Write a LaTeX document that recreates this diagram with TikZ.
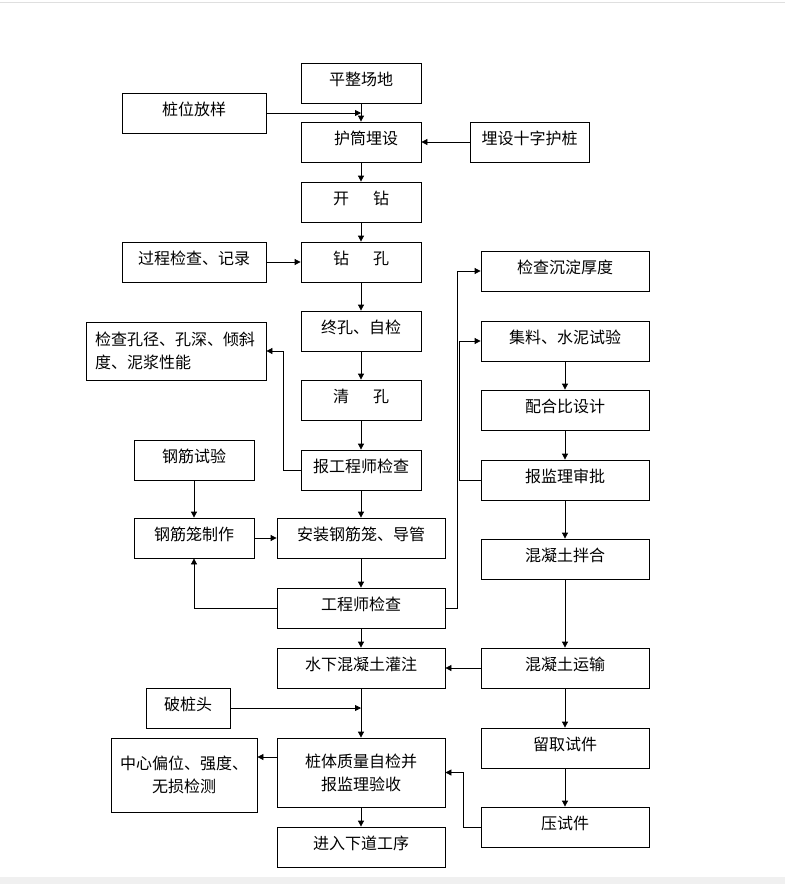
\documentclass[tikz,border=0pt]{standalone}
\usepackage{fontspec}
\setmainfont{Noto Sans CJK SC}
\usetikzlibrary{arrows.meta}

\begin{document}
\begin{tikzpicture}[x=1pt,y=-1pt,
	box/.style={draw,line width=0.8pt,inner sep=0pt,minimum height=40pt,text height=14pt,text depth=10pt,font=\fontsize{16pt}{23pt}\selectfont},
	twobox/.style={draw,line width=0.8pt,inner sep=0pt,align=center,font=\fontsize{16pt}{23pt}\selectfont},
	link/.style={line width=0.8pt},
	arr/.style={line width=0.8pt,-{Triangle[length=6pt,width=6pt]}}]
	\useasboundingbox (0,0) rectangle (785,884);
	\draw [gray!25] (0,2) -- (785,2);
	\fill [gray!12] (0,877) rectangle (785,884);

	% middle column
	\node [box,minimum width=120pt] (pingzheng) at (361,83) {平整场地\hspace{20pt}};
	\node [box,minimum width=120pt] (hutong) at (361,142) {\hspace{10pt}护筒埋设};
	\node [box,minimum width=120pt] (kaizuan) at (361,202) {开\hspace{24pt}钻\hspace{8pt}};
	\node [box,minimum width=120pt] (zuankong) at (361,262) {钻\hspace{24pt}孔\hspace{10pt}};
	\node [box,minimum width=120pt] (zhongkong) at (361,331) {终孔、自检\hspace{16pt}};
	\node [box,minimum width=120pt] (qingkong) at (361,400) {清\hspace{24pt}孔\hspace{8pt}};
	\node [box,minimum width=120pt] (baogcs) at (361,470) {报工程师检查};
	\node [box,minimum width=168pt] (anzhuang) at (361,538) {安装钢筋笼、导管\hspace{16pt}};
	\node [box,minimum width=168pt] (gcsjc) at (361,608) {工程师检查};
	\node [box,minimum width=168pt] (guanzhu) at (361,668) {水下混凝土灌注};
	\node [twobox,minimum width=168pt,minimum height=69pt] (zijian) at (361,772.5) {桩体质量自检并\\报监理验收};
	\node [box,minimum width=168pt] (xiadao) at (361,847) {进入下道工序};

	% left column
	\node [box,minimum width=144pt] (zhuangwei) at (194,113) {桩位放样\hspace{28pt}};
	\node [box,minimum width=144pt] (guocheng) at (194,262) {过程检查、记录\hspace{12pt}};
	\node [twobox,minimum width=180pt,minimum height=58pt,text width=162pt,align=left] (kongjing) at (176,351) {检查孔径、孔深、倾斜\\度、泥浆性能};
	\node [box,minimum width=120pt] (gangjin) at (194,460) {钢筋试验};
	\node [box,minimum width=120pt] (zhizuo) at (194,538) {钢筋笼制作\hspace{19pt}};
	\node [box,minimum width=84pt] (pozhuang) at (188,708) {破桩头};
	\node [twobox,minimum width=146pt,minimum height=74pt] (jiance) at (184,775) {中心偏位、强度、\\无损检测};

	% right column
	\node [box,minimum width=119pt] (shizi) at (529.5,142) {埋设十字护桩};
	\node [box,minimum width=168pt] (chendian) at (565,271) {检查沉淀厚度};
	\node [box,minimum width=168pt] (jiliao) at (565,341) {集料、水泥试验};
	\node [box,minimum width=168pt] (peihe) at (565,410) {配合比设计};
	\node [box,minimum width=168pt] (shenpi) at (565,480) {报监理审批};
	\node [box,minimum width=168pt] (banhe) at (565,559) {混凝土拌合};
	\node [box,minimum width=168pt] (yunshu) at (565,668) {混凝土运输};
	\node [box,minimum width=168pt] (liuqu) at (565,748) {留取试件};
	\node [box,minimum width=168pt] (yashi) at (565,827) {压试件};

	% main line
	\draw [arr] (pingzheng) -- (hutong);
	\draw [arr] (hutong) -- (kaizuan);
	\draw [arr] (kaizuan) -- (zuankong);
	\draw [arr] (zuankong) -- (zhongkong);
	\draw [arr] (zhongkong) -- (qingkong);
	\draw [arr] (qingkong) -- (baogcs);
	\draw [arr] (baogcs) -- (anzhuang);
	\draw [arr] (anzhuang) -- (gcsjc);
	\draw [arr] (gcsjc) -- (guanzhu);
	\draw [arr] (guanzhu) -- (zijian);
	\draw [arr] (zijian) -- (xiadao);

	% side inputs
	\draw [arr] (zhuangwei.east) -- (zhuangwei.east -| hutong.north);
	\draw [arr] (shizi) -- (hutong);
	\draw [arr] (guocheng) -- (zuankong);
	\draw [arr] (baogcs.west) -- ++(-17,0) |- (kongjing.east);
	\draw [arr] (gangjin) -- (zhizuo);
	\draw [arr] (zhizuo) -- (anzhuang);
	\draw [arr] (gcsjc.west) -| (zhizuo.south);
	\draw [arr] (gcsjc.east) -- ++(12,0) |- (chendian.west);
	\draw [arr] (shenpi.west) -- ++(-21,0) |- (jiliao.west);
	\draw [arr] (pozhuang.east) -- (pozhuang.east -| zijian.north);
	\draw [arr] ([yshift=15.5pt]zijian.west) -- ([yshift=15.5pt]zijian.west -| jiance.east);
	\draw [arr] (yashi.west) -- ++(-17,0) |- (zijian.east);

	% concrete column
	\draw [arr] (jiliao) -- (peihe);
	\draw [arr] (peihe) -- (shenpi);
	\draw [arr] (shenpi) -- (banhe);
	\draw [arr] (banhe) -- (yunshu);
	\draw [arr] (yunshu) -- (guanzhu);
	\draw [arr] (yunshu) -- (liuqu);
	\draw [arr] (liuqu) -- (yashi);
\end{tikzpicture}
\end{document}
